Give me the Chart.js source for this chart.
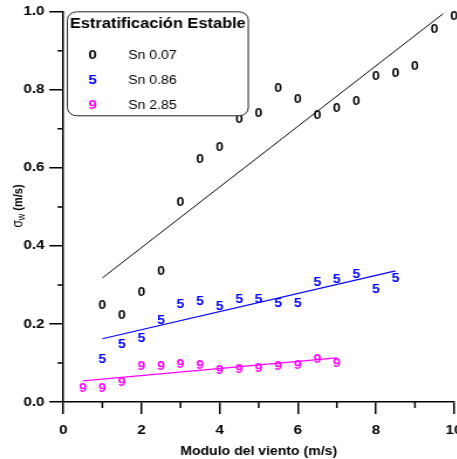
<!DOCTYPE html>
<html>
<head>
<meta charset="utf-8">
<title>Estratificación Estable</title>
<script src="https://cdn.jsdelivr.net/npm/chart.js@4.4.1/dist/chart.umd.min.js"></script>
<style>
  html, body { margin: 0; padding: 0; background: #fff; overflow: hidden; }
  #wrap { width: 457px; height: 459px; overflow: hidden; }
  canvas { display: block; }
</style>
</head>
<body>
<div id="wrap">
  <!-- drawn narrow, shown wide; the right edge runs past the frame -->
  <canvas id="chart" width="404" height="459" style="width:472.5px;height:459px"></canvas>
</div>
<script>
// Sn 0.07
const windSn007 = [1, 1.5, 2, 2.5, 3, 3.5, 4, 4.5, 5, 5.5, 6, 6.5, 7, 7.5, 8, 8.5, 9, 9.5, 10];
const sigmaSn007 = [0.250, 0.223, 0.282, 0.336, 0.513, 0.623, 0.654, 0.725, 0.742, 0.805,
                    0.777, 0.736, 0.754, 0.773, 0.836, 0.845, 0.863, 0.958, 0.989];
// Sn 0.86
const windSn086 = [1, 1.5, 2, 2.5, 3, 3.5, 4, 4.5, 5, 5.5, 6, 6.5, 7, 7.5, 8, 8.5];
const sigmaSn086 = [0.110, 0.149, 0.164, 0.210, 0.253, 0.259, 0.246, 0.264, 0.266, 0.254,
                    0.254, 0.308, 0.315, 0.328, 0.290, 0.318];
// Sn 2.85
const windSn285 = [0.5, 1, 1.5, 2, 2.5, 3, 3.5, 4, 4.5, 5, 5.5, 6, 6.5, 7];
const sigmaSn285 = [0.036, 0.036, 0.051, 0.092, 0.094, 0.099, 0.095, 0.084, 0.086, 0.089,
                    0.092, 0.095, 0.110, 0.101];

// regression lines (end points)
const fitX007 = [1, 9.72];
const fitY007 = [0.318, 0.995];
const fitX086 = [1, 8.5];
const fitY086 = [0.162, 0.336];
const fitX285 = [0.5, 7];
const fitY285 = [0.054, 0.113];

const xTickValues = [0, 2, 4, 6, 8, 10];
const xMinorValues = [1, 3, 5, 7, 9];
const yTickValues = [0, 0.2, 0.4, 0.6, 0.8, 1.0];
const yMinorValues = [0.1, 0.3, 0.5, 0.7, 0.9];

const FONT = "'Liberation Sans', Arial, sans-serif";
const pts = (xs, ys) => xs.map((x, i) => ({ x, y: ys[i] }));

// each series is drawn with a digit instead of a point
const glyphPlugin = {
  id: "glyphs",
  afterDatasetsDraw(chart) {
    const { ctx } = chart;
    ctx.save();
    ctx.font = "bold 12px " + FONT;
    ctx.textAlign = "center";
    ctx.textBaseline = "middle";
    chart.data.datasets.forEach((ds, i) => {
      if (!ds.glyph) return;
      ctx.fillStyle = ds.color;
      chart.getDatasetMeta(i).data.forEach((p) => ctx.fillText(ds.glyph, p.x, p.y + 1));
    });
    ctx.restore();
  },
};

const minorTickPlugin = {
  id: "minorTicks",
  afterDraw(chart) {
    const { ctx, scales: { x, y } } = chart;
    ctx.save();
    ctx.strokeStyle = "#000";
    ctx.lineWidth = 1.5;
    ctx.beginPath();
    xMinorValues.forEach((v) => {
      const px = x.getPixelForValue(v);
      ctx.moveTo(px, y.bottom);
      ctx.lineTo(px, y.bottom + 6);
    });
    yMinorValues.forEach((v) => {
      const py = y.getPixelForValue(v);
      ctx.moveTo(x.left, py);
      ctx.lineTo(x.left - 5, py);
    });
    ctx.stroke();
    ctx.restore();
  },
};

const boxLegendPlugin = {
  id: "boxLegend",
  afterDraw(chart) {
    const { ctx, chartArea } = chart;
    const left = chartArea.left + 3.5;
    const top = chartArea.top;
    const w = 154.5;
    const h = 104;

    ctx.save();
    ctx.fillStyle = "#fff";
    ctx.strokeStyle = "#222";
    ctx.lineWidth = 1;
    ctx.beginPath();
    ctx.roundRect(left, top, w, h, 8);
    ctx.fill();
    ctx.stroke();

    ctx.fillStyle = "#000";
    ctx.font = "bold 14px " + FONT;
    ctx.textAlign = "center";
    ctx.textBaseline = "middle";
    ctx.fillText("Estratificación Estable", left + w / 2, top + 12.5);

    const series = chart.data.datasets.filter((ds) => ds.glyph);
    series.forEach((ds, i) => {
      const cy = top + 43.5 + i * 25;
      ctx.fillStyle = ds.color;
      ctx.font = "bold 13px " + FONT;
      ctx.textAlign = "center";
      ctx.fillText(ds.glyph, left + 21.5, cy);
      ctx.fillStyle = "#000";
      ctx.font = "12px " + FONT;
      ctx.textAlign = "left";
      ctx.fillText(ds.label, left + 52, cy);
    });
    ctx.restore();
  },
};

// sigma_w axis title with subscript
const yTitlePlugin = {
  id: "yTitle",
  afterDraw(chart) {
    const { ctx } = chart;
    const parts = [
      { t: "σ", f: "12px " + FONT, dy: 0 },
      { t: "w", f: "9px " + FONT, dy: 3 },
      { t: " (m/s)", f: "bold 11px " + FONT, dy: 0 },
    ];
    ctx.save();
    let total = 0;
    parts.forEach((p) => { ctx.font = p.f; p.w = ctx.measureText(p.t).width; total += p.w; });
    ctx.translate(15.5, 206);
    ctx.rotate(-Math.PI / 2);
    ctx.fillStyle = "#000";
    ctx.textBaseline = "middle";
    ctx.textAlign = "left";
    let x = -total / 2;
    parts.forEach((p) => {
      ctx.font = p.f;
      ctx.fillText(p.t, x, p.dy);
      x += p.w;
    });
    ctx.restore();
  },
};

const series = (label, glyph, color, xs, ys) => ({
  label, glyph, color,
  data: pts(xs, ys),
  pointRadius: 0,
  showLine: false,
});
const fitLine = (color, xs, ys, width) => ({
  data: pts(xs, ys),
  showLine: true,
  borderColor: color,
  borderWidth: width,
  pointRadius: 0,
});

const ctx = document.getElementById("chart").getContext("2d");
new Chart(ctx, {
  type: "scatter",
  data: {
    datasets: [
      fitLine("#000", fitX007, fitY007, 1),
      fitLine("#0000ff", fitX086, fitY086, 1.2),
      fitLine("#ff00ff", fitX285, fitY285, 1.2),
      series("Sn 0.07", "0", "#000", windSn007, sigmaSn007),
      series("Sn 0.86", "5", "#0000ff", windSn086, sigmaSn086),
      series("Sn 2.85", "9", "#ff00ff", windSn285, sigmaSn285),
    ],
  },
  options: {
    responsive: false,
    animation: false,
    events: [],
    layout: { padding: { left: 16, top: 5, right: 0, bottom: 0 } },
    plugins: { legend: { display: false }, tooltip: { enabled: false } },
    scales: {
      x: {
        type: "linear",
        min: 0,
        max: 10,
        afterBuildTicks: (s) => { s.ticks = xTickValues.map((value) => ({ value })); },
        ticks: {
          color: "#000",
          font: { family: FONT, size: 13, weight: "bold" },
          padding: 9,
          maxRotation: 0,
          autoSkip: false,
        },
        grid: { drawOnChartArea: false, tickLength: 12, color: "#000", lineWidth: 1.5 },
        border: { color: "#000", width: 1.5 },
        title: {
          display: true,
          text: "Modulo del viento (m/s)",
          color: "#000",
          font: { family: FONT, size: 12, weight: "bold" },
          padding: { top: -3, bottom: 0 },
        },
      },
      y: {
        min: 0,
        max: 1,
        afterBuildTicks: (s) => { s.ticks = yTickValues.map((value) => ({ value })); },
        ticks: {
          color: "#000",
          font: { family: FONT, size: 13, weight: "bold" },
          padding: 4,
          callback: (v) => v.toFixed(1),
        },
        grid: { drawOnChartArea: false, tickLength: 12, color: "#000", lineWidth: 1.5 },
        border: { color: "#000", width: 1.5 },
      },
    },
  },
  plugins: [glyphPlugin, minorTickPlugin, boxLegendPlugin, yTitlePlugin],
});
</script>
</body>
</html>
